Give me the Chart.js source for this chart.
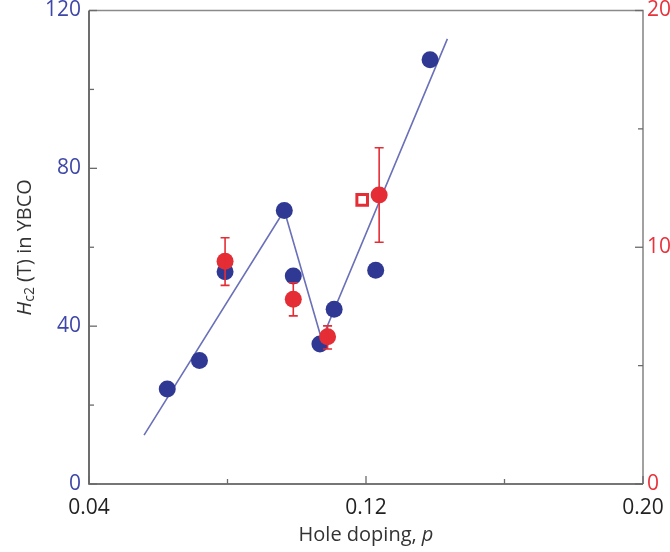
<!DOCTYPE html>
<html>
<head>
<meta charset="utf-8">
<script src="https://cdn.jsdelivr.net/npm/chart.js@4.4.1/dist/chart.umd.min.js"></script>
<style>
  html, body { margin: 0; padding: 0; background: #fff; }
  #wrap { width: 670px; height: 552px; }
</style>
</head>
<body>
<div id="wrap"><canvas id="hc2Chart" width="670" height="552"></canvas></div>
<script>
// blue: Hc2 from fits (left axis, T)
const pBlue = [0.0626, 0.0719, 0.0793, 0.0964, 0.0990, 0.1067, 0.1108, 0.1228, 0.1385];
const hBlue = [24.1, 31.3, 53.8, 69.3, 52.7, 35.5, 44.3, 54.2, 107.5];

// red: right axis, with error bars
const pRed = [0.0793, 0.0990, 0.1089, 0.1238];
const hRed = [9.41, 7.80, 6.22, 12.21];
const redLow = [8.39, 7.10, 5.70, 10.21];
const redHigh = [10.40, 8.50, 6.68, 14.20];

// open square (right axis)
const pOpen = [0.1189];
const hOpen = [12.0];

// guide line through the blue points
const pLine = [0.0559, 0.0964, 0.1072, 0.1435];
const hLine = [12.4, 69.3, 36.6, 112.8];

const xTicks = [0.04, 0.08, 0.12, 0.16, 0.20];
const xLabels = ['0.04', '', '0.12', '', '0.20'];
const yLeftTicks = [0, 20, 40, 60, 80, 100, 120];
const yLeftLabels = ['0', '', '40', '', '80', '', '120'];
const yRightTicks = [0, 5, 10, 15, 20];
const yRightLabels = ['0', '', '10', '', '20'];

const BLUE = '#2f3892';
const RED = '#e52d35';
const LINE = '#6b71b9';
const FONT = "'Open Sans', 'DejaVu Sans', sans-serif";

const pts = (xs, ys) => xs.map((x, i) => ({ x, y: ys[i] }));

function fixedTicks(values) {
    return function (scale) {
        scale.ticks = values.map(v => ({ value: v }));
    };
}

// no auto padding for half labels, the frame is fixed
function noPad(scale) {
    scale.paddingTop = 0; scale.paddingBottom = 0;
    scale.paddingLeft = 0; scale.paddingRight = 0;
}

const decorPlugin = {
    id: 'decor',
    beforeDatasetsDraw(chart) {
        const { ctx, chartArea: a, scales } = chart;
        ctx.save();
        ctx.lineCap = 'butt';
        // frame
        ctx.lineWidth = 1.6;
        ctx.strokeStyle = '#8a8a8a';
        ctx.beginPath();
        ctx.moveTo(a.left, a.top); ctx.lineTo(a.right, a.top); ctx.lineTo(a.right, a.bottom);
        ctx.stroke();
        ctx.strokeStyle = '#4a4a4a';
        ctx.beginPath();
        ctx.moveTo(a.left, a.top); ctx.lineTo(a.left, a.bottom); ctx.lineTo(a.right, a.bottom);
        ctx.stroke();

        // inward ticks
        ctx.lineWidth = 1.3;
        ctx.strokeStyle = '#6a6a6a';
        xTicks.forEach((v, i) => {
            const px = scales.x.getPixelForValue(v);
            const len = xLabels[i] ? 8 : 5;
            ctx.beginPath(); ctx.moveTo(px, a.bottom); ctx.lineTo(px, a.bottom - len); ctx.stroke();
        });
        yLeftTicks.forEach((v, i) => {
            const py = scales.y.getPixelForValue(v);
            const len = yLeftLabels[i] ? 8 : 5;
            ctx.beginPath(); ctx.moveTo(a.left, py); ctx.lineTo(a.left + len, py); ctx.stroke();
        });
        yRightTicks.forEach((v, i) => {
            const py = scales.y2.getPixelForValue(v);
            const len = yRightLabels[i] ? 8 : 5;
            ctx.beginPath(); ctx.moveTo(a.right, py); ctx.lineTo(a.right - len, py); ctx.stroke();
        });
        ctx.restore();
    },
    afterDatasetsDraw(chart) {
        const { ctx, scales } = chart;
        ctx.save();
        ctx.strokeStyle = RED;
        ctx.lineWidth = 1.6;
        pRed.forEach((p, i) => {
            const px = scales.x.getPixelForValue(p);
            const lo = scales.y2.getPixelForValue(redLow[i]);
            const hi = scales.y2.getPixelForValue(redHigh[i]);
            ctx.beginPath();
            ctx.moveTo(px, lo); ctx.lineTo(px, hi);
            ctx.moveTo(px - 4.5, lo); ctx.lineTo(px + 4.5, lo);
            ctx.moveTo(px - 4.5, hi); ctx.lineTo(px + 4.5, hi);
            ctx.stroke();
        });
        ctx.restore();
    },
    afterDraw(chart) {
        const { ctx, chartArea: a } = chart;
        ctx.save();
        ctx.fillStyle = '#333';
        ctx.textBaseline = 'middle';

        // x title: "Hole doping, p"
        ctx.font = '20px ' + FONT;
        const t1 = 'Hole doping, ';
        const w1 = ctx.measureText(t1).width;
        ctx.font = 'italic 20px ' + FONT;
        const w2 = ctx.measureText('p').width;
        let x0 = (a.left + a.right) / 2 - (w1 + w2) / 2;
        ctx.font = '20px ' + FONT;
        ctx.textAlign = 'left';
        ctx.fillText(t1, x0, 535);
        ctx.font = 'italic 20px ' + FONT;
        ctx.fillText('p', x0 + w1, 535);

        // y title: "Hc2 (T) in YBCO"
        ctx.translate(25, (a.top + a.bottom) / 2);
        ctx.rotate(-Math.PI / 2);
        const parts = [
            { s: 'H', f: 'italic 20px ', dy: 0 },
            { s: 'c2', f: '14px ', dy: 5 },
            { s: ' (T) in YBCO', f: '20px ', dy: 0 }
        ];
        let total = 0;
        parts.forEach(pt => { ctx.font = pt.f + FONT; pt.w = ctx.measureText(pt.s).width; total += pt.w; });
        let cx = -total / 2;
        parts.forEach(pt => {
            ctx.font = pt.f + FONT;
            ctx.fillText(pt.s, cx, pt.dy);
            cx += pt.w;
        });
        ctx.restore();
    }
};

new Chart(document.getElementById('hc2Chart').getContext('2d'), {
    type: 'scatter',
    data: {
        datasets: [
            {
                data: pts(pRed, hRed),
                yAxisID: 'y2',
                backgroundColor: RED,
                borderColor: RED,
                borderWidth: 0,
                pointRadius: 8.5,
                order: 1
            },
            {
                data: pts(pOpen, hOpen),
                yAxisID: 'y2',
                pointStyle: 'rect',
                backgroundColor: '#fff',
                borderColor: RED,
                borderWidth: 3,
                pointRadius: 7.5,
                order: 2
            },
            {
                data: pts(pBlue, hBlue),
                yAxisID: 'y',
                backgroundColor: BLUE,
                borderColor: BLUE,
                borderWidth: 0,
                pointRadius: 8.5,
                order: 3
            },
            {
                type: 'line',
                data: pts(pLine, hLine),
                yAxisID: 'y',
                borderColor: LINE,
                borderWidth: 1.6,
                pointRadius: 0,
                fill: false,
                tension: 0,
                order: 4
            }
        ]
    },
    options: {
        responsive: false,
        animation: false,
        events: [],
        layout: { padding: { top: 8, left: 0, right: 0, bottom: 0 } },
        plugins: { legend: { display: false }, tooltip: { enabled: false } },
        scales: {
            x: {
                type: 'linear',
                min: 0.04, max: 0.20,
                grid: { display: false, drawTicks: false },
                border: { display: false },
                afterBuildTicks: fixedTicks(xTicks),
                afterFit(scale) { scale.height = 68; noPad(scale); },
                ticks: {
                    padding: 11,
                    maxRotation: 0,
                    autoSkip: false,
                    color: '#222',
                    font: { family: FONT, size: 21 },
                    callback: (v, i) => xLabels[i]
                }
            },
            y: {
                position: 'left',
                min: 0, max: 120,
                grid: { display: false, drawTicks: false },
                border: { display: false },
                afterBuildTicks: fixedTicks(yLeftTicks),
                afterFit(scale) { scale.width = 89; noPad(scale); },
                ticks: {
                    padding: 8,
                    autoSkip: false,
                    color: '#3f47a8',
                    font: { family: FONT, size: 21 },
                    callback: (v, i) => yLeftLabels[i]
                }
            },
            y2: {
                position: 'right',
                min: 0, max: 20,
                grid: { display: false, drawTicks: false },
                border: { display: false },
                afterBuildTicks: fixedTicks(yRightTicks),
                afterFit(scale) { scale.width = 27; noPad(scale); },
                ticks: {
                    padding: 4,
                    autoSkip: false,
                    color: '#e8323c',
                    font: { family: FONT, size: 21 },
                    callback: (v, i) => yRightLabels[i]
                }
            }
        }
    },
    plugins: [decorPlugin]
});
</script>
</body>
</html>
